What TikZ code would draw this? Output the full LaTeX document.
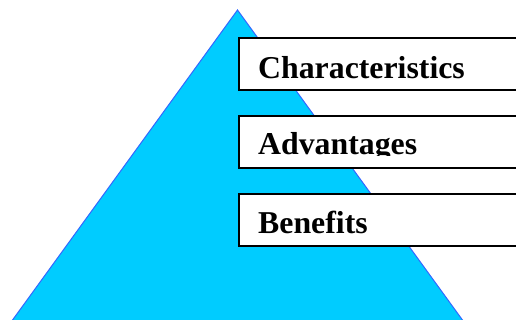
\documentclass[tikz,border=0pt]{standalone}
\usepackage{fontspec}
\setmainfont{Liberation Serif}
\definecolor{pyrfill}{HTML}{00CCFF}
\definecolor{pyredge}{HTML}{3366FF}
\begin{document}
\begin{tikzpicture}[x=1pt,y=-1pt,
  tier/.style={draw=black, line width=2pt, fill=white, rectangle,
    anchor=north west, minimum width=290pt, minimum height=52pt, inner sep=0pt},
  tierlabel/.style={anchor=base west, inner sep=0pt,
    font=\fontsize{31.8pt}{36pt}\selectfont\bfseries}]
  \useasboundingbox (0,0) rectangle (516,320);
  \clip (0,0) rectangle (516,320);
  % pyramid
  \coordinate (apex) at (237.5,10);
  \coordinate (baseL) at (10.0,323.5);
  \coordinate (baseR) at (465.0,323.5);
  \fill[pyrfill] (apex) -- (baseR) -- (baseL) -- cycle;
  \draw[pyredge, line width=1pt] (baseL) -- (apex) -- (baseR);
  % tiers
  \node[tier] (charbox) at (237.5,37) {};
  \node[tier] (advbox)  at (237.5,115) {};
  \node[tier] (benbox)  at (237.5,193) {};
  \node[tierlabel] (chartxt) at (258,78.5) {Characteristics};
  \begin{scope}
    \clip (240,116) rectangle (516,155.5);
    \node[tierlabel] (advtxt) at (258,154.5) {Advantages};
  \end{scope}
  \node[tierlabel] (bentxt) at (258,233.5) {Benefits};
\end{tikzpicture}
\end{document}
